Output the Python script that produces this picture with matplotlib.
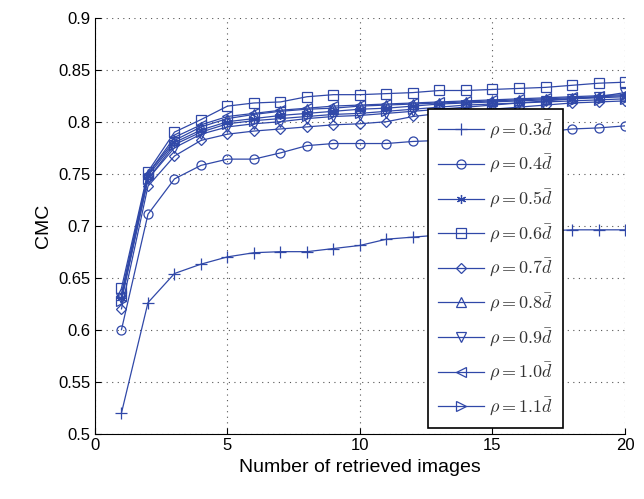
import matplotlib.pyplot as plt

plt.rcParams['font.family'] = ['Liberation Sans', 'DejaVu Sans']
plt.rcParams['mathtext.fontset'] = 'cm'

k = list(range(1, 21))

rho_labels = ['0.3', '0.4', '0.5', '0.6', '0.7', '0.8', '0.9', '1.0', '1.1']
markers = ['+', 'o', (6, 2, 0), 's', 'D', '^', 'v', '<', '>']

cmc_03 = [0.520, 0.626, 0.654, 0.663, 0.670, 0.674, 0.675, 0.675, 0.678, 0.681,
          0.687, 0.689, 0.691, 0.692, 0.693, 0.694, 0.695, 0.696, 0.696, 0.696]
cmc_04 = [0.600, 0.711, 0.745, 0.758, 0.764, 0.764, 0.770, 0.777, 0.779, 0.779,
          0.779, 0.781, 0.782, 0.784, 0.786, 0.788, 0.790, 0.793, 0.794, 0.796]
cmc_05 = [0.630, 0.748, 0.780, 0.792, 0.800, 0.803, 0.806, 0.808, 0.810, 0.812,
          0.813, 0.815, 0.817, 0.818, 0.819, 0.820, 0.821, 0.822, 0.823, 0.824]
cmc_06 = [0.640, 0.752, 0.790, 0.802, 0.815, 0.818, 0.819, 0.824, 0.826, 0.826,
          0.827, 0.828, 0.830, 0.830, 0.831, 0.832, 0.833, 0.835, 0.837, 0.838]
cmc_07 = [0.620, 0.738, 0.767, 0.782, 0.788, 0.791, 0.793, 0.795, 0.797, 0.798,
          0.800, 0.805, 0.808, 0.810, 0.812, 0.814, 0.816, 0.818, 0.819, 0.820]
cmc_08 = [0.635, 0.750, 0.782, 0.795, 0.803, 0.807, 0.810, 0.812, 0.813, 0.815,
          0.816, 0.817, 0.818, 0.819, 0.820, 0.821, 0.822, 0.823, 0.824, 0.825]
cmc_09 = [0.630, 0.745, 0.775, 0.788, 0.795, 0.798, 0.800, 0.803, 0.805, 0.806,
          0.808, 0.810, 0.812, 0.814, 0.816, 0.818, 0.820, 0.822, 0.824, 0.828]
cmc_10 = [0.632, 0.750, 0.785, 0.797, 0.805, 0.808, 0.811, 0.813, 0.815, 0.816,
          0.817, 0.818, 0.819, 0.820, 0.821, 0.822, 0.823, 0.824, 0.825, 0.826]
cmc_11 = [0.628, 0.745, 0.778, 0.790, 0.798, 0.801, 0.803, 0.805, 0.807, 0.808,
          0.810, 0.812, 0.814, 0.816, 0.817, 0.818, 0.819, 0.820, 0.821, 0.822]
series = [cmc_03, cmc_04, cmc_05, cmc_06, cmc_07, cmc_08, cmc_09, cmc_10, cmc_11]

yticks = [0.5, 0.55, 0.6, 0.65, 0.7, 0.75, 0.8, 0.85, 0.9]
ytick_labels = ['0.5', '0.55', '0.6', '0.65', '0.7', '0.75', '0.8', '0.85', '0.9']
xticks = [0, 5, 10, 15, 20]

color = '#3048a8'

fig = plt.figure(figsize=(6.44, 4.99), dpi=100)
ax = fig.add_axes([0.1475, 0.131, 0.823, 0.8335])

for lab, m, vals in zip(rho_labels, markers, series):
    ms = 9 if m == '+' else (5.5 if m == 'D' else 6.5)
    ax.plot(k, vals, color=color, marker=m, markersize=ms, markerfacecolor='none',
            markeredgecolor=color, markeredgewidth=0.9, linewidth=0.9,
            label=r'$\rho = %s\bar{d}$' % lab)

ax.set_xlim(0, 20)
ax.set_ylim(0.5, 0.9)
ax.set_xticks(xticks)
ax.set_yticks(yticks)
ax.set_yticklabels(ytick_labels)
ax.tick_params(direction='in', length=4, labelsize=12)
ax.grid(True, linestyle=(0, (1, 4)), color='#555555', linewidth=0.8)
ax.spines['top'].set_visible(False)
ax.spines['right'].set_visible(False)

ax.set_xlabel('Number of retrieved images', fontsize=14)
ax.set_ylabel('CMC', fontsize=14)

leg = ax.legend(loc='lower right', bbox_to_anchor=(0.883, 0.014), borderaxespad=0,
                fontsize=13, labelspacing=0.68, handlelength=2.55, handletextpad=0.3,
                fancybox=False, framealpha=1, edgecolor='black', borderpad=0.55)
leg.get_frame().set_linewidth(1.2)
for t in leg.get_texts():
    t.set_color('#333333')

fig.savefig('out.png', dpi=100)
